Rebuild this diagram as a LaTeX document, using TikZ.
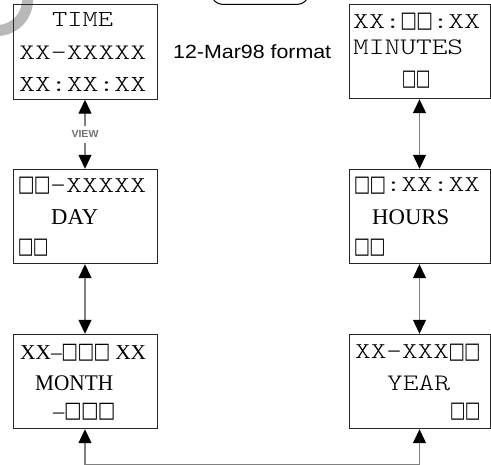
\documentclass[tikz,border=0pt]{standalone}
\usepackage{fontspec}
\usepackage{graphicx}
\usetikzlibrary{arrows.meta}
\newfontfamily\sqfont{DejaVu Sans}
\newfontfamily\serf{Liberation Serif}
\newfontfamily\sans{Liberation Sans}
\newfontfamily\mono{lmmonolt10-regular.otf}
\newcommand\sq{\makebox[0.525em]{\raisebox{-0.09em}[0.62em][0pt]{\raisebox{\depth}{\resizebox*{0.55em}{0.76em}{\sqfont □}}}}}
\newcommand\sqs{\makebox[0.75em]{\raisebox{-0.09em}[0.66em][0pt]{\raisebox{\depth}{\resizebox*{0.78em}{0.8em}{\sqfont □}}}}}
\newcommand\fitto[3]{\resizebox*{#1pt}{#2pt}{#3}}
\tikzset{
  box/.style={draw=black!85, line width=0.9pt, inner sep=0pt},
  lbox/.style={box, minimum width=144pt, minimum height=94.5pt},
  rbox/.style={box, minimum width=141pt, minimum height=94.5pt},
  txt/.style={inner sep=0pt, anchor=west, text=black},
  conn/.style={draw=gray, line width=1.2pt,
    {Triangle[width=13pt,length=14pt,color=black]}-{Triangle[width=13pt,length=14pt,color=black]}},
  lbl/.style={fill=white, inner xsep=2pt, inner ysep=5pt, text=gray!90!black, font=\sans\bfseries}
}
\begin{document}
\begin{tikzpicture}[x=1pt,y=-1pt]
\useasboundingbox (0,0) rectangle (491,465);
\clip (0,0) rectangle (491,465);
% gray arc at top left
\draw[line width=11pt, gray!55] (-3,0) circle[radius=30.5];
% rounded tab at top centre
\draw[line width=1pt, rounded corners=12pt] (211,-40) rectangle (309,4.5);
% boxes
\node[lbox] (time) at (85,52) {};
\node[lbox] (day) at (85,216.5) {};
\node[lbox] (month) at (85,381.5) {};
\node[rbox] (minutes) at (419.5,51.5) {};
\node[rbox] (hours) at (419.5,216.5) {};
\node[rbox] (year) at (419.5,381.5) {};
% TIME box text
\node[txt] (t1) at (52,20) {\fitto{61}{14}{\mono TIME}};
\node[txt] (t2) at (19,53) {\fitto{127}{13.5}{\mono XX-XXXXX}};
\node[txt] (t3) at (19,84.5) {\fitto{127}{14}{\mono XX:XX:XX}};
% DAY box text
\node[txt] (d1) at (18,185.5) {\fitto{128}{14}{\mono\sq\sq-XXXXX}};
\node[txt] (d2) at (51,217.5) {\fitto{47}{15}{\serf DAY}};
\node[txt] (d3) at (18,247) {\fitto{30}{14}{\mono\sq\sq}};
% MINUTES box text
\node[txt] (m1) at (353,21.5) {\fitto{127}{14}{\mono XX:\sq\sq:XX}};
\node[txt] (m2) at (353,47.5) {\fitto{110}{15}{\mono MINUTES}};
\node[txt] (m3) at (402,79.5) {\fitto{28}{14}{\mono\sq\sq}};
% HOURS box text
\node[txt] (h1) at (354,185) {\fitto{126}{14}{\mono\sq\sq:XX:XX}};
\node[txt] (h2) at (372,217) {\fitto{77}{15}{\serf HOURS}};
\node[txt] (h3) at (354,247) {\fitto{31}{14}{\mono\sq\sq}};
% MONTH box text
\node[txt] (n1) at (20,352.5) {\fitto{126}{14}{\serf XX–\sqs\sqs\sqs\ XX}};
\node[txt] (n2) at (35,383.5) {\fitto{78}{15}{\serf MONTH}};
\node[txt] (n3) at (53,411.5) {\fitto{62}{14}{\serf –\sqs\sqs\sqs}};
% YEAR box text
\node[txt] (y1) at (355,352) {\fitto{125}{14}{\mono XX-XXX\sq\sq}};
\node[txt] (y2) at (387,383) {\fitto{63}{15}{\mono YEAR}};
\node[txt] (y3) at (450,411) {\fitto{30}{14}{\mono\sq\sq}};
% format note
\node[txt] (fmt) at (173,52) {\fitto{158}{14}{\sans 12-Mar98 format}};
% connectors
\draw[conn] (time.south) -- node[lbl] (view) {\fitto{27}{7}{VIEW}} (day.north);
\draw[conn] (day.south) -- (month.north);
\draw[conn] (minutes.south) -- (hours.north);
\draw[conn] (hours.south) -- (year.north);
\draw[conn] (month.south) -- ++(0,35) -| (year.south);
\end{tikzpicture}
\end{document}
